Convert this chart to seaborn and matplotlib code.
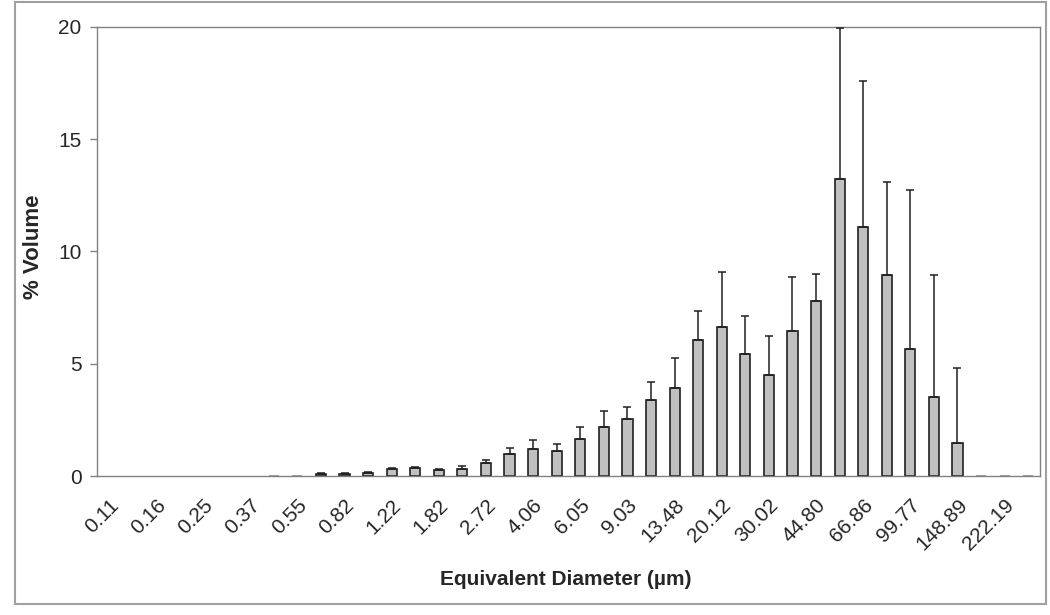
import numpy as np
import pandas as pd
import matplotlib
matplotlib.use("Agg")
import matplotlib.pyplot as plt
import matplotlib.transforms as mtransforms
from matplotlib.patches import Rectangle
import seaborn as sns

# Equivalent diameter bins (µm); only every other one is labelled on the axis
diameters = ["0.11", "0.13", "0.16", "0.20", "0.25", "0.30", "0.37", "0.45",
             "0.55", "0.67", "0.82", "1.00", "1.22", "1.49", "1.82", "2.22",
             "2.72", "3.32", "4.06", "4.95", "6.05", "7.39", "9.03", "11.02",
             "13.48", "16.44", "20.12", "24.53", "30.02", "36.60", "44.80", "54.60",
             "66.86", "81.45", "99.77", "121.50", "148.89", "181.30", "222.19", "271.00"]

volume = [0, 0, 0, 0, 0, 0, 0, 0.02,
          0.02, 0.10, 0.10, 0.15, 0.30, 0.37, 0.27, 0.33,
          0.58, 0.97, 1.20, 1.11, 1.63, 2.17, 2.55, 3.39,
          3.91, 6.06, 6.65, 5.43, 4.51, 6.44, 7.80, 13.24,
          11.08, 8.95, 5.67, 3.53, 1.48, 0.01, 0.01, 0.01]

error = [0, 0, 0, 0, 0, 0, 0, 0,
         0, 0.02, 0.02, 0.05, 0.05, 0.03, 0.03, 0.12,
         0.15, 0.29, 0.39, 0.30, 0.54, 0.71, 0.54, 0.80,
         1.33, 1.30, 2.45, 1.71, 1.74, 2.44, 1.21, 6.73,
         6.52, 4.15, 7.06, 5.42, 3.33, 0, 0, 0]

yticks = [0, 5, 10, 15, 20]

df = pd.DataFrame({"diameter": diameters, "volume": volume, "error": error})

sns.set_style("white")
plt.rcParams["font.family"] = ["Liberation Sans", "DejaVu Sans"]

fig = plt.figure(figsize=(10.5, 6.15), dpi=100)
ax = fig.add_axes([97 / 1050, 1 - 476 / 615, (1040 - 97) / 1050, (476 - 27) / 615])

sns.barplot(data=df, x="diameter", y="volume", order=diameters, color="#C0C0C0",
            saturation=1, width=0.43, edgecolor="#202020", linewidth=1.2,
            errorbar=None, ax=ax)
for p in ax.patches:
    if p.get_height() == 0:
        p.set_edgecolor("none")
    elif p.get_height() < 0.05:
        p.set_edgecolor("#909090")

xpos = np.arange(len(diameters))
vol = np.array(volume)
err = np.array(error)
has_err = err > 0
ax.errorbar(xpos[has_err], vol[has_err], yerr=[np.zeros(has_err.sum()), err[has_err]],
            fmt="none", ecolor="#202020", elinewidth=1.1, capsize=3, capthick=1.1,
            zorder=3)

ax.set_ylim(0, 20)
ax.set_xlim(-0.5, len(diameters) - 0.5)
ax.set_yticks(yticks)
ax.set_yticklabels([str(t) for t in yticks], fontsize=15)

ax.set_xticks(xpos[::2])
ax.set_xticklabels(diameters[::2], rotation=45, ha="right", rotation_mode="anchor",
                   fontsize=15)
offset = mtransforms.ScaledTranslation(-9 / 100, -6 / 100, fig.dpi_scale_trans)
for lab in ax.get_xticklabels():
    lab.set_transform(lab.get_transform() + offset)
ax.set_xticks(np.arange(len(diameters) + 1) - 0.5, minor=True)
ax.tick_params(axis="x", which="major", length=0, pad=14)
ax.tick_params(axis="x", which="minor", length=5, color="#808080", width=1)
ax.tick_params(axis="y", which="major", left=True, length=5, color="#808080", width=1, pad=6)

for s in ax.spines.values():
    s.set_visible(True)
    s.set_color("#808080")
    s.set_linewidth(1.0)

ax.set_xlabel("Equivalent Diameter (µm)", fontsize=15, fontweight="bold")
ax.set_ylabel("% Volume", fontsize=16, fontweight="bold")
ax.xaxis.set_label_coords(0.497, -0.21)
ax.yaxis.set_label_coords(-0.067, 0.51)
ax.yaxis.label.set_verticalalignment("center")

fig.patches.append(Rectangle((15 / 1050, 1 - 604 / 615), (1046 - 15) / 1050, (604 - 2) / 615,
                             transform=fig.transFigure, fill=False,
                             edgecolor="#A0A0A0", linewidth=1.5))

fig.savefig("out.png", dpi=100)
